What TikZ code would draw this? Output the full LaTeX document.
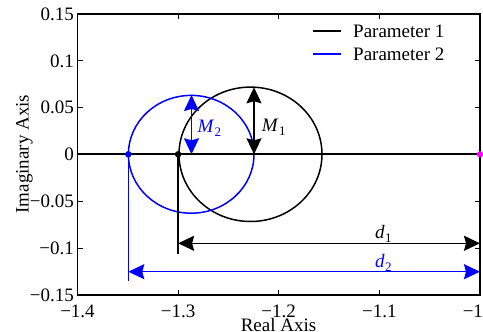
\documentclass[tikz,border=0pt]{standalone}
\usepackage{fontspec}
\setmainfont{Liberation Serif}
\usetikzlibrary{arrows.meta}
\definecolor{pblue}{RGB}{0,0,255}
\definecolor{pmag}{RGB}{255,0,255}
\begin{document}
\begin{tikzpicture}[x=1pt,y=-1pt,
  font=\fontsize{19}{21}\selectfont,
  axisline/.style={line width=1.8pt, black},
  plotline/.style={line width=1.5pt},
  tick/.style={line width=1pt},
  dimarrow/.style={line width=1.5pt, {Stealth[length=16pt,width=15pt,inset=2pt]}-{Stealth[length=16pt,width=15pt,inset=2pt]}},
  dot/.style={circle, inner sep=0pt, minimum size=6.5pt},
  ylab/.style={anchor=base east, inner sep=0pt},
  xlab/.style={anchor=base, inner sep=0pt},
  lab/.style={anchor=base west, inner sep=0pt}
]
\useasboundingbox (0,0) rectangle (483,332);
\newcommand{\sub}[1]{\kern0.5pt\raisebox{-4pt}{\fontsize{13}{13}\selectfont #1}}

% curves
\draw[plotline, black] (250.5,154.3) ellipse [x radius=71.5, y radius=67.2];
\draw[plotline, pblue] (191.2,154.3) ellipse [x radius=62.8, y radius=58.9];

% real axis line
\draw[line width=1.8pt] (77.5,154.3) -- (480,154.3);

% axes box
\draw[axisline] (77.5,13.75) rectangle (480,294.85);
% ticks
\foreach \x in {178.1,278.7,379.4}{
  \draw[tick] (\x,294.85) -- (\x,289.85);
  \draw[tick] (\x,13.75) -- (\x,18.75);
}
\foreach \y in {60.6,107.4,201.2,248.0}{
  \draw[tick] (77.5,\y) -- (82.5,\y);
  \draw[tick] (480,\y) -- (475,\y);
}

% tick labels
\node[ylab] (y1) at (74,20.25) {0.15};
\node[ylab] (y2) at (74,67.1) {0.1};
\node[ylab] (y3) at (74,113.9) {0.05};
\node[ylab] (y4) at (74,160.8) {0};
\node[ylab] (y5) at (74,207.7) {−0.05};
\node[ylab] (y6) at (74,254.5) {−0.1};
\node[ylab] (y7) at (74,301.35) {−0.15};
\node[xlab] (x1) at (77.5,317) {−1.4};
\node[xlab] (x2) at (178.1,317) {−1.3};
\node[xlab] (x3) at (278.7,317) {−1.2};
\node[xlab] (x4) at (379.4,317) {−1.1};
\node[xlab] (x5) at (480,317) {−1.0};
\node[xlab] (xl) at (278.5,331.5) {Real Axis};
\node[anchor=base, inner sep=0pt, rotate=90] (yl) at (28.5,154) {Imaginary Axis};

% legend
\coordinate (l1a) at (313,31); \coordinate (l1b) at (341,31);
\coordinate (l2a) at (313,54); \coordinate (l2b) at (341,54);
\draw[plotline, black] (l1a) -- (l1b);
\draw[plotline, pblue] (l2a) -- (l2b);
\node[anchor=west, inner sep=0pt] (t1) at (353,31) {Parameter 1};
\node[anchor=west, inner sep=0pt] (t2) at (353,54) {Parameter 2};

% points
\node[dot, fill=black] (p1) at (178.1,154.3) {};
\node[dot, fill=pblue] (p2) at (128.3,154.3) {};
\node[dot, fill=pmag] (pm) at (480,154.3) {};

% vertical drop lines
\coordinate (p1low) at (178.1,254);
\coordinate (p2low) at (128.3,280.7);
\draw[plotline, black] (p1.center) -- (p1low);
\draw[plotline, pblue] (p2.center) -- (p2low);

% d arrows
\coordinate (d1a) at (178.1,243.3); \coordinate (d1b) at (480,243.3);
\coordinate (d2a) at (128.3,271.7); \coordinate (d2b) at (480,271.7);
\draw[dimarrow, black] (d1a) -- (d1b);
\draw[dimarrow, pblue] (d2a) -- (d2b);
\node[lab, black] (d1) at (375,238.3) {\textit{d}\sub{1}};
\node[lab, pblue] (d2) at (375,267) {\textit{d}\sub{2}};

% M arrows
\coordinate (m2a) at (191.5,154.3); \coordinate (m2b) at (191.5,95);
\coordinate (m1a) at (254,154.3); \coordinate (m1b) at (254,87.3);
\draw[dimarrow, pblue] (m2a) -- (m2b);
\draw[dimarrow, black] (m1a) -- (m1b);
\node[lab, pblue] (m2) at (197.3,132.3) {\textit{M}\sub{2}};
\node[lab, black] (m1) at (261.7,131.7) {\textit{M}\sub{1}};
\end{tikzpicture}
\end{document}
